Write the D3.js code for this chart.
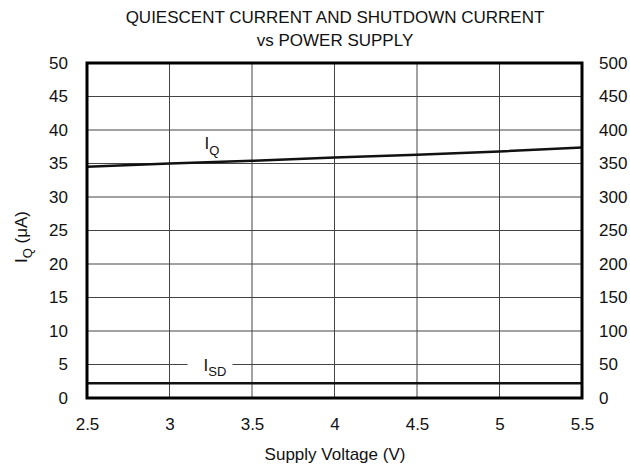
<!DOCTYPE html>
<html>
<head>
<meta charset="utf-8">
<script src="https://cdn.jsdelivr.net/npm/d3@7"></script>
<style>
  body { margin: 0; background: #fff; }
  text { font-family: "Liberation Sans", Arial, sans-serif; fill: #111; }
</style>
</head>
<body>
<svg id="chart" width="630" height="472"></svg>
<script>
// supply voltage (V)
const voltage = [2.5, 3, 3.5, 4, 4.5, 5, 5.5];
// quiescent current (uA), left axis
const iq = [34.5, 35.0, 35.4, 35.9, 36.3, 36.8, 37.4];
// shutdown current, right axis
const isd = [22, 22, 22, 22, 22, 22, 22];
const xTicks = [2.5, 3, 3.5, 4, 4.5, 5, 5.5];
const yTicks = [0, 5, 10, 15, 20, 25, 30, 35, 40, 45, 50];
const y2Ticks = [0, 50, 100, 150, 200, 250, 300, 350, 400, 450, 500];

const svg = d3.select("#chart");
const margin = { top: 63, right: 48, bottom: 74, left: 87 };
const width = 630 - margin.left - margin.right;
const height = 472 - margin.top - margin.bottom;
const fs = 17;

const x = d3.scaleLinear().domain([2.5, 5.5]).range([0, width]);
const y = d3.scaleLinear().domain([0, 50]).range([height, 0]);
const y2 = d3.scaleLinear().domain([0, 500]).range([height, 0]);

const g = svg.append("g").attr("transform", `translate(${margin.left},${margin.top})`);

// grid
g.append("g")
  .selectAll("line")
  .data(xTicks.slice(1, -1))
  .join("line")
  .attr("x1", d => x(d)).attr("x2", d => x(d))
  .attr("y1", 0).attr("y2", height)
  .attr("stroke", "#444").attr("stroke-width", 1);

g.append("g")
  .selectAll("line")
  .data(yTicks.slice(1, -1))
  .join("line")
  .attr("x1", 0).attr("x2", width)
  .attr("y1", d => y(d)).attr("y2", d => y(d))
  .attr("stroke", "#444").attr("stroke-width", 1);

// axes (labels only, frame drawn separately)
const left = g.append("g").call(d3.axisLeft(y).tickValues(yTicks).tickSize(0).tickPadding(19));
const right = g.append("g").attr("transform", `translate(${width},0)`)
  .call(d3.axisRight(y2).tickValues(y2Ticks).tickSize(0).tickPadding(17));
const bottom = g.append("g").attr("transform", `translate(0,${height})`)
  .call(d3.axisBottom(x).tickValues(xTicks).tickFormat(d3.format("")).tickSize(0).tickPadding(20));
[left, right, bottom].forEach(a => {
  a.select(".domain").remove();
  a.selectAll("text").attr("font-size", fs).attr("fill", "#111")
    .style("font-family", '"Liberation Sans", Arial, sans-serif');
});

// ISD label with white gap in the 5 gridline
const isdLabel = g.append("g").attr("transform", `translate(${x(3.2)},${y(5)})`);
isdLabel.append("rect").attr("x", -15).attr("y", -8).attr("width", 45).attr("height", 16).attr("fill", "#fff");
const t2 = isdLabel.append("text").attr("x", 1).attr("y", 6).attr("font-size", fs);
t2.append("tspan").text("I");
t2.append("tspan").attr("font-size", 13).attr("dy", 5).text("SD");

// IQ label
const t1 = g.append("text").attr("x", x(3.2) + 2).attr("y", 149 - margin.top).attr("font-size", fs);
t1.append("tspan").text("I");
t1.append("tspan").attr("font-size", 13).attr("dy", 6).text("Q");

// curves
const line = d3.line().x((d, i) => x(voltage[i]));
g.append("path")
  .datum(iq)
  .attr("fill", "none").attr("stroke", "#111").attr("stroke-width", 2.5)
  .attr("d", line.y(d => y(d)));
g.append("path")
  .datum(isd)
  .attr("fill", "none").attr("stroke", "#111").attr("stroke-width", 2.5)
  .attr("d", d3.line().x((d, i) => x(voltage[i])).y(d => y2(d)));

// frame
g.append("rect").attr("width", width).attr("height", height)
  .attr("fill", "none").attr("stroke", "#000").attr("stroke-width", 3);

// titles
svg.append("text").attr("x", 335).attr("y", 23).attr("text-anchor", "middle").attr("font-size", fs)
  .text("QUIESCENT CURRENT AND SHUTDOWN CURRENT");
svg.append("text").attr("x", 335).attr("y", 46).attr("text-anchor", "middle").attr("font-size", fs)
  .text("vs POWER SUPPLY");
svg.append("text").attr("x", 335).attr("y", 460).attr("text-anchor", "middle").attr("font-size", fs)
  .text("Supply Voltage (V)");

const yl = svg.append("text").attr("transform", `translate(27,237) rotate(-90)`)
  .attr("text-anchor", "middle").attr("font-size", fs);
yl.append("tspan").text("I");
yl.append("tspan").attr("font-size", 13).attr("dy", 5).text("Q");
yl.append("tspan").attr("dy", -5).text(" (μA)");
</script>
</body>
</html>
